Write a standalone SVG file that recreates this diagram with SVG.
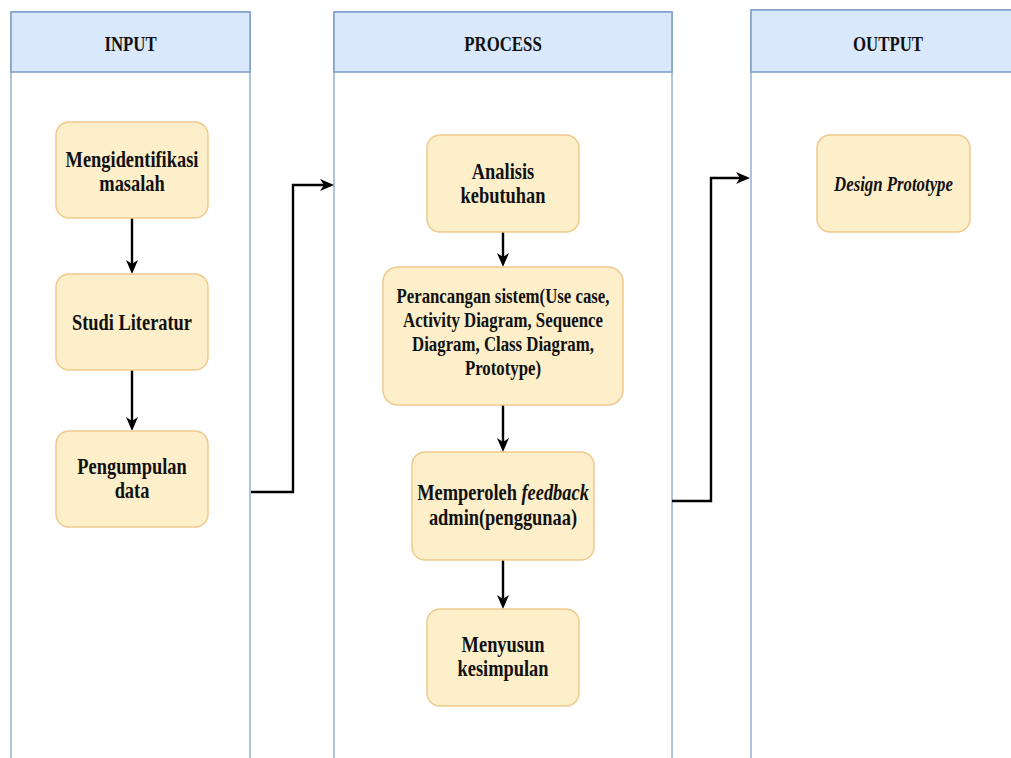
<svg xmlns="http://www.w3.org/2000/svg" width="1011" height="758" viewBox="0 0 1011 758">
<style>
.lane{fill:#ffffff;stroke:#94aed3;stroke-width:1.5}
.hdr{fill:#dae8fc;stroke:#7e9cc9;stroke-width:1.5}
.node{fill:#fdefca;stroke:#efc98d;stroke-width:1.5}
.t{font-family:'Liberation Serif','Times New Roman',Times,serif;font-weight:700;font-size:23px;fill:#111;text-anchor:middle}
.h{font-size:21px}
.s{font-size:21px}
.i{font-style:italic}
.c{fill:none;stroke:#000;stroke-width:2.4}
</style>
<defs>
<marker id="ah" viewBox="0 0 14 12" refX="4" refY="6" markerWidth="14" markerHeight="12" markerUnits="userSpaceOnUse" orient="auto">
<path d="M0,0 L14,6 L0,12 L4,6 Z" fill="#000"/>
</marker>
</defs>
<rect width="1011" height="758" fill="#ffffff"/>
<g id="lane-input">
<rect class="lane" x="11" y="12" width="239" height="770"/>
<rect class="hdr" x="11" y="12" width="239" height="60"/>
<text class="t h" font-family="Liberation Serif" transform="translate(130.5,0) scale(0.8,1)" x="0" y="51">INPUT</text>
</g>
<g id="lane-process">
<rect class="lane" x="334" y="12" width="338" height="770"/>
<rect class="hdr" x="334" y="12" width="338" height="60"/>
<text class="t h" transform="translate(503,0) scale(0.8,1)" x="0" y="51">PROCESS</text>
</g>
<g id="lane-output">
<rect class="lane" x="751" y="10" width="280" height="770"/>
<rect class="hdr" x="751" y="10" width="280" height="62"/>
<text class="t h" transform="translate(888,0) scale(0.8,1)" x="0" y="51">OUTPUT</text>
</g>
<g id="connectors">
<path class="c" d="M132,218 V264" marker-end="url(#ah)"/>
<path class="c" d="M132,370 V421" marker-end="url(#ah)"/>
<path class="c" d="M503,232 V257" marker-end="url(#ah)"/>
<path class="c" d="M503,405 V442" marker-end="url(#ah)"/>
<path class="c" d="M503,560 V599" marker-end="url(#ah)"/>
<path class="c" d="M251,492 H293 V185 H324" marker-end="url(#ah)"/>
<path class="c" d="M672,501 H711 V178 H740" marker-end="url(#ah)"/>
</g>
<g id="n-mengidentifikasi">
<rect class="node" x="56" y="122" width="152" height="96" rx="13"/>
<text class="t" transform="translate(132,0) scale(0.8,1)"><tspan x="0" y="167">Mengidentifikasi</tspan><tspan x="0" y="191">masalah</tspan></text>
</g>
<g id="n-studi">
<rect class="node" x="56" y="274" width="152" height="96" rx="13"/>
<text class="t" transform="translate(132,0) scale(0.8,1)" x="0" y="330">Studi Literatur</text>
</g>
<g id="n-pengumpulan">
<rect class="node" x="56" y="431" width="152" height="96" rx="13"/>
<text class="t" transform="translate(132,0) scale(0.8,1)"><tspan x="0" y="474">Pengumpulan</tspan><tspan x="0" y="498">data</tspan></text>
</g>
<g id="n-analisis">
<rect class="node" x="427" y="135" width="152" height="97" rx="13"/>
<text class="t" transform="translate(503,0) scale(0.8,1)"><tspan x="0" y="179">Analisis</tspan><tspan x="0" y="203">kebutuhan</tspan></text>
</g>
<g id="n-perancangan">
<rect class="node" x="383" y="267" width="240" height="138" rx="15"/>
<text class="t s" transform="translate(503,0) scale(0.8,1)"><tspan x="0" y="303">Perancangan sistem(Use case,</tspan><tspan x="0" y="327">Activity Diagram, Sequence</tspan><tspan x="0" y="351">Diagram, Class Diagram,</tspan><tspan x="0" y="375">Prototype)</tspan></text>
</g>
<g id="n-memperoleh">
<rect class="node" x="412" y="452" width="182" height="108" rx="13"/>
<text class="t" transform="translate(503,0) scale(0.8,1)"><tspan x="0" y="500">Memperoleh <tspan class="i">feedback</tspan></tspan><tspan x="0" y="525">admin(penggunaa)</tspan></text>
</g>
<g id="n-menyusun">
<rect class="node" x="427" y="609" width="152" height="97" rx="13"/>
<text class="t" transform="translate(503,0) scale(0.8,1)"><tspan x="0" y="652">Menyusun</tspan><tspan x="0" y="676">kesimpulan</tspan></text>
</g>
<g id="n-design">
<rect class="node" x="817" y="135" width="153" height="97" rx="13"/>
<text class="t i s" transform="translate(893.5,0) scale(0.8,1)" x="0" y="191">Design Prototype</text>
</g>
</svg>
